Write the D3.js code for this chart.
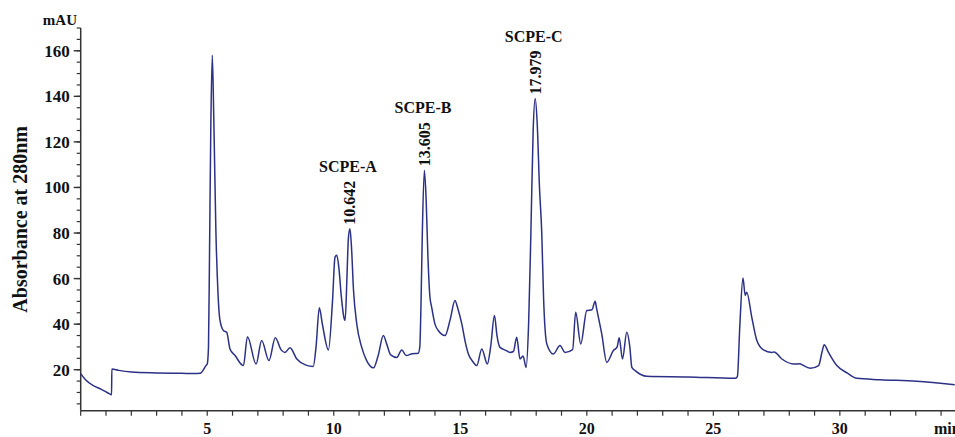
<!DOCTYPE html>
<html>
<head>
<meta charset="utf-8">
<script src="https://cdn.jsdelivr.net/npm/d3@7"></script>
<style>
  html, body { margin: 0; padding: 0; background: #fff; }
  svg text { font-family: "Liberation Serif", "Times New Roman", serif; font-weight: bold; fill: #111; }
</style>
</head>
<body>
<svg id="chart" width="955" height="437"></svg>
<script>
// retention time (min) and absorbance (mAU)
var retentionTime = [0, 0.2, 0.5, 0.8, 1.16, 1.22, 1.23, 1.5, 2, 3, 4, 4.5, 4.72, 4.95, 5.0, 5.05, 5.09, 5.14, 5.2, 5.26, 5.34, 5.42, 5.5, 5.64, 5.77, 5.9, 6.1, 6.43, 6.59, 6.93, 7.15, 7.44, 7.69, 7.92, 8.07, 8.27, 8.54, 8.9, 9.19, 9.3, 9.43, 9.55, 9.79, 9.95, 10.05, 10.12, 10.2, 10.3, 10.4, 10.45, 10.52, 10.58, 10.64, 10.7, 10.78, 10.91, 11.1, 11.3, 11.57, 11.75, 11.96, 12.1, 12.25, 12.49, 12.69, 12.86, 13.1, 13.34, 13.4, 13.45, 13.5, 13.58, 13.65, 13.72, 13.8, 13.87, 14.0, 14.13, 14.4, 14.6, 14.79, 14.9, 15.06, 15.2, 15.32, 15.5, 15.65, 15.85, 16.07, 16.2, 16.35, 16.45, 16.57, 16.8, 16.97, 17.1, 17.23, 17.36, 17.48, 17.6, 17.7, 17.79, 17.88, 17.96, 18.04, 18.13, 18.22, 18.29, 18.42, 18.68, 18.94, 19.14, 19.44, 19.56, 19.76, 20.0, 20.2, 20.33, 20.39, 20.59, 20.79, 21.05, 21.2, 21.28, 21.41, 21.58, 21.7, 21.78, 21.91, 22.37, 24, 25.86, 25.95, 26.05, 26.17, 26.26, 26.32, 26.52, 26.72, 26.98, 27.31, 27.4, 27.71, 28.17, 28.43, 28.5, 28.83, 29.16, 29.3, 29.38, 29.55, 29.88, 30.3, 30.67, 31.59, 33.04, 34.54];
var absorbance = [18.3, 15.5, 13, 11.5, 9.3, 9, 20.3, 19.7, 19.0, 18.6, 18.4, 18.3, 18.4, 21.8, 22.5, 30, 70, 125, 158, 130, 82, 55, 42, 37.2, 36.4, 29.1, 26.2, 21.8, 34.5, 22.5, 32.8, 24, 34, 28.7, 27.6, 29.6, 24.7, 22, 21.4, 30, 47.2, 40, 28.7, 50, 69.4, 70.2, 65, 52, 43, 41.6, 60, 78, 81.9, 74, 55, 40, 30, 24, 20.8, 26, 35, 31, 26.5, 25.4, 28.7, 26.2, 27, 27.2, 30, 50, 80, 107.5, 95, 70, 52, 47.4, 40, 37.2, 35, 42, 50.4, 47, 40.1, 32, 26.9, 23.5, 21.8, 29.1, 22.5, 30, 43.8, 35, 29.8, 28.5, 27.6, 28, 34.2, 24.7, 26, 21, 40, 80, 125, 139, 128, 100, 80, 52, 31.3, 26.9, 30.6, 27.6, 28.8, 45.2, 31.3, 46, 46.3, 50, 46.7, 35.7, 23.2, 28.4, 30, 34, 24.7, 36.4, 30, 21, 19.6, 17.1, 16.8, 16.2, 17, 40, 60.2, 52.6, 54, 43, 32.8, 28.7, 27.6, 27.8, 24.7, 22.5, 22.6, 22.2, 20.6, 21.8, 28, 31, 27.6, 21.8, 18.5, 16.2, 15.6, 14.9, 13.4];

var yTicks = [20, 40, 60, 80, 100, 120, 140, 160];
var xTicks = [5, 10, 15, 20, 25, 30];

// labelled peaks
var peakNames = ['SCPE-A', 'SCPE-B', 'SCPE-C'];
var peakTimes = [10.642, 13.605, 17.979];
var peakHeights = [81.9, 107.5, 139];

var svg = d3.select('#chart');

var x = d3.scaleLinear().domain([0, 34.55]).range([80.7, 955]);
var y = d3.scaleLinear().domain([2, 170]).range([410.7, 28]);

drawAxes();
drawTrace();
drawLabels();

function drawAxes() {
  // y axis
  var yAxis = svg.append('g').attr('transform', 'translate(' + x(0) + ',0)');
  yAxis.append('line')
    .attr('y1', y(170)).attr('y2', y(2))
    .attr('stroke', '#333').attr('stroke-width', 1.5);
  yAxis.selectAll('.minor')
    .data(d3.range(5, 171, 5))
    .enter().append('line')
    .attr('x1', -4).attr('x2', 0)
    .attr('y1', function(d) { return y(d); })
    .attr('y2', function(d) { return y(d); })
    .attr('stroke', '#333').attr('stroke-width', 1.2);
  yAxis.selectAll('.major')
    .data(yTicks)
    .enter().append('line')
    .attr('x1', -7).attr('x2', 0)
    .attr('y1', function(d) { return y(d); })
    .attr('y2', function(d) { return y(d); })
    .attr('stroke', '#333').attr('stroke-width', 1.4);
  yAxis.selectAll('text')
    .data(yTicks)
    .enter().append('text')
    .attr('x', -11)
    .attr('y', function(d) { return y(d) + 6; })
    .attr('text-anchor', 'end')
    .style('font-size', '17px')
    .text(function(d) { return d; });

  // x axis
  var xAxis = svg.append('g').attr('transform', 'translate(0,' + y(2) + ')');
  xAxis.append('line')
    .attr('x1', x(0)).attr('x2', 955)
    .attr('stroke', '#333').attr('stroke-width', 1.5);
  xAxis.selectAll('.minor')
    .data(d3.range(0, 35, 1))
    .enter().append('line')
    .attr('x1', function(d) { return x(d); })
    .attr('x2', function(d) { return x(d); })
    .attr('y1', 0).attr('y2', 5)
    .attr('stroke', '#333').attr('stroke-width', 1.2);
  xAxis.selectAll('text')
    .data(xTicks)
    .enter().append('text')
    .attr('x', function(d) { return x(d); })
    .attr('y', 23.5)
    .attr('text-anchor', 'middle')
    .style('font-size', '16px')
    .text(function(d) { return d; });
  // the unit runs off the right edge, as in the original
  xAxis.append('text')
    .attr('x', 934).attr('y', 23.5)
    .style('font-size', '16px')
    .text('min');

  // units and title
  svg.append('text')
    .attr('x', 77).attr('y', 25)
    .attr('text-anchor', 'end')
    .style('font-size', '15px')
    .text('mAU');
  svg.append('text')
    .attr('transform', 'translate(27,' + y(86) + ') rotate(-90)')
    .attr('text-anchor', 'middle')
    .style('font-size', '20px')
    .text('Absorbance at 280nm');
}

function drawTrace() {
  var points = retentionTime.map(function(t, i) { return [t, absorbance[i]]; });
  var line = d3.line()
    .x(function(d) { return x(d[0]); })
    .y(function(d) { return y(d[1]); })
    .curve(d3.curveMonotoneX);
  svg.append('path')
    .datum(points)
    .attr('d', line)
    .attr('fill', 'none')
    .attr('stroke', '#2c3185')
    .attr('stroke-width', 1.5)
    .attr('stroke-linejoin', 'round');
}

function drawLabels() {
  peakNames.forEach(function(name, i) {
    var px = x(peakTimes[i]);
    var py = y(peakHeights[i]);
    // retention time, rotated above the peak
    svg.append('text')
      .attr('transform', 'translate(' + (px + 5) + ',' + (py - 4) + ') rotate(-90)')
      .style('font-size', '16px')
      .text(peakTimes[i].toFixed(3));
    svg.append('text')
      .attr('x', px - 2)
      .attr('y', py - 57)
      .attr('text-anchor', 'middle')
      .style('font-size', '16px')
      .text(name);
  });
}
</script>
</body>
</html>
